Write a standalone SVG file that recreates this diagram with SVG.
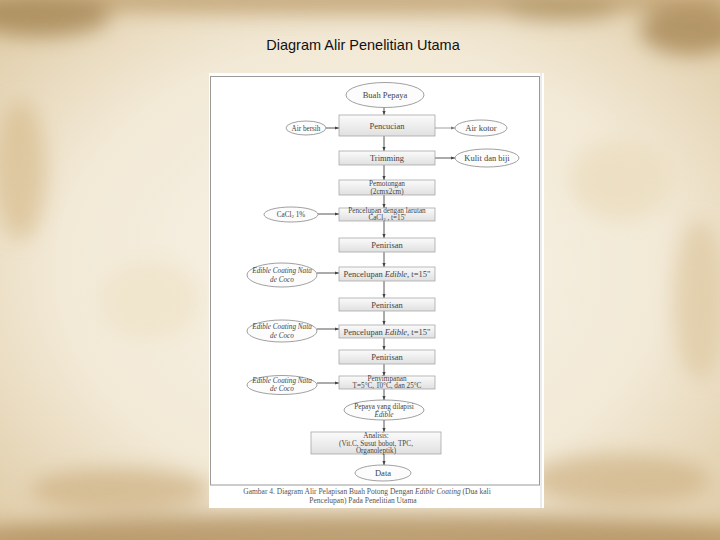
<svg xmlns="http://www.w3.org/2000/svg" width="720" height="540" viewBox="0 0 720 540">
<defs>
<radialGradient id="bg" cx="50%" cy="50%" r="70%">
<stop offset="0" stop-color="#f8f3e8"/>
<stop offset="0.6" stop-color="#f2e9d6"/>
<stop offset="1" stop-color="#dfcba6"/>
</radialGradient>
<linearGradient id="bx" x1="0" y1="0" x2="0" y2="1">
<stop offset="0" stop-color="#fbfbfb"/>
<stop offset="1" stop-color="#e0e0e0"/>
</linearGradient>
<filter id="blur" x="-50%" y="-50%" width="200%" height="200%"><feGaussianBlur stdDeviation="10"/></filter>
<marker id="ah" viewBox="0 0 10 10" refX="10" refY="5" markerWidth="5" markerHeight="5" orient="auto">
<path d="M0,1 L10,5 L0,9 z" fill="#444"/>
</marker>
<marker id="ahl" viewBox="0 0 10 10" refX="10" refY="5" markerWidth="5" markerHeight="5" orient="auto">
<path d="M0,1 L10,5 L0,9 z" fill="#777"/>
</marker>
</defs>
<style>
.box{fill:url(#bx);stroke:#a8a8a8;stroke-width:0.8}
.ell{fill:#fcfcfc;stroke:#888;stroke-width:0.8}
.t{font-family:"Liberation Serif",serif;font-size:8.5px;fill:#444;text-anchor:middle}
.s{font-size:7.2px}
.i{font-style:italic}
.c{stroke:#444;stroke-width:0.9;fill:none;marker-end:url(#ah)}
.cl{stroke:#888;stroke-width:0.8;fill:none;marker-end:url(#ahl)}
.cap{font-family:"Liberation Serif",serif;font-size:7.5px;fill:#555;text-anchor:middle}
</style>
<!-- background parchment -->
<rect width="720" height="540" fill="url(#bg)"/>
<g filter="url(#blur)" opacity="0.7">
<ellipse cx="360" cy="0" rx="420" ry="14" fill="#b89560"/>
<ellipse cx="360" cy="540" rx="420" ry="26" fill="#a9844f"/>
<ellipse cx="40" cy="15" rx="70" ry="22" fill="#9c7a45"/>
<ellipse cx="690" cy="30" rx="50" ry="25" fill="#a07e48"/>
<ellipse cx="20" cy="170" rx="26" ry="70" fill="#d8be90"/>
<ellipse cx="700" cy="300" rx="26" ry="80" fill="#dec8a0"/>
<ellipse cx="120" cy="490" rx="90" ry="22" fill="#cdb082"/>
<ellipse cx="620" cy="480" rx="90" ry="26" fill="#cfb386"/>
<ellipse cx="560" cy="8" rx="60" ry="12" fill="#a3834e"/>
<ellipse cx="150" cy="300" rx="50" ry="40" fill="#efe3c8"/>
<ellipse cx="620" cy="180" rx="50" ry="40" fill="#eadcbc"/>
</g>
<!-- title -->
<text x="363" y="50" font-family="'Liberation Sans',sans-serif" font-size="14.5px" fill="#111" text-anchor="middle">Diagram Alir Penelitian Utama</text>
<!-- figure sheet -->
<rect x="209" y="73" width="335" height="435" fill="#ffffff"/>
<rect x="210.5" y="76.5" width="329" height="408.5" fill="none" stroke="#9a9a9a" stroke-width="1"/>
<line x1="541" y1="73" x2="541" y2="508" stroke="#d8d8d8" stroke-width="1"/>
<!-- connectors -->
<g id="connectors">
<line class="c" x1="384" y1="107.5" x2="384" y2="115"/>
<line class="c" x1="384" y1="136" x2="384" y2="151"/>
<line class="c" x1="384" y1="165" x2="384" y2="180"/>
<line class="c" x1="384" y1="195" x2="384" y2="208"/>
<line class="c" x1="384" y1="221" x2="384" y2="238"/>
<line class="c" x1="384" y1="252" x2="384" y2="267"/>
<line class="c" x1="384" y1="281" x2="384" y2="298"/>
<line class="c" x1="384" y1="311" x2="384" y2="325"/>
<line class="c" x1="384" y1="338" x2="384" y2="350"/>
<line class="c" x1="384" y1="364" x2="384" y2="376"/>
<line class="c" x1="384" y1="389" x2="384" y2="400"/>
<line class="c" x1="384" y1="420" x2="384" y2="432"/>
<line class="c" x1="384" y1="454" x2="384" y2="465"/>
<line class="c" x1="326" y1="128" x2="339" y2="128"/>
<line class="cl" x1="435" y1="128" x2="455" y2="128"/>
<line class="c" x1="435" y1="158" x2="455" y2="158"/>
<line class="c" x1="318" y1="214" x2="339" y2="214"/>
<line class="c" x1="317" y1="273" x2="339" y2="273"/>
<line class="c" x1="317" y1="329" x2="339" y2="329"/>
<line class="c" x1="317" y1="383" x2="339" y2="383"/>
</g>
<!-- nodes -->
<g id="buah-pepaya"><ellipse class="ell" cx="385" cy="95" rx="39" ry="12.5"/><text class="t" x="385" y="98">Buah Pepaya</text></g>
<g id="pencucian"><rect class="box" x="339" y="115" width="96" height="21"/><text class="t" x="387" y="129">Pencucian</text></g>
<g id="air-bersih"><ellipse class="ell" cx="306" cy="128" rx="20" ry="7"/><text class="t s" x="306" y="130.5">Air bersih</text></g>
<g id="air-kotor"><ellipse class="ell" cx="481" cy="128" rx="26" ry="8"/><text class="t" x="481" y="131">Air kotor</text></g>
<g id="trimming"><rect class="box" x="339" y="151" width="96" height="14"/><text class="t" x="387" y="161">Trimming</text></g>
<g id="kulit-biji"><ellipse class="ell" cx="487" cy="158" rx="32" ry="9"/><text class="t" x="487" y="161">Kulit dan biji</text></g>
<g id="pemotongan"><rect class="box" x="339" y="180" width="96" height="15"/><text class="t s" x="387" y="185.5">Pemotongan</text><text class="t s" x="387" y="193.5">(2cmx2cm)</text></g>
<g id="pencelupan-cacl2"><rect class="box" x="339" y="208" width="96" height="13"/><text class="t s" x="387" y="212.5">Pencelupan dengan larutan</text><text class="t s" x="387" y="220">CaCl<tspan font-size="5px" dy="1.2">2</tspan><tspan dy="-1.2"> , t=15'</tspan></text></g>
<g id="cacl2"><ellipse class="ell" cx="291" cy="214.5" rx="27" ry="7.5"/><text class="t s" x="291" y="217">CaCl<tspan font-size="5px" dy="1.2">2</tspan><tspan dy="-1.2"> 1%</tspan></text></g>
<g id="penirisan-1"><rect class="box" x="339" y="238" width="96" height="14"/><text class="t" x="387" y="248">Penirisan</text></g>
<g id="edible-1"><ellipse class="ell" cx="282" cy="275" rx="35" ry="12"/><text class="t s i" x="282" y="273">Edible Coating Nata</text><text class="t s i" x="282" y="281.5">de Coco</text></g>
<g id="pencelupan-edible-1"><rect class="box" x="339" y="267" width="96" height="14"/><text class="t" x="387" y="277">Pencelupan <tspan font-style="italic">Edible</tspan>, t=15"</text></g>
<g id="penirisan-2"><rect class="box" x="339" y="298" width="96" height="13"/><text class="t" x="387" y="307.5">Penirisan</text></g>
<g id="edible-2"><ellipse class="ell" cx="282" cy="331" rx="35" ry="11"/><text class="t s i" x="282" y="329">Edible Coating Nata</text><text class="t s i" x="282" y="337.5">de Coco</text></g>
<g id="pencelupan-edible-2"><rect class="box" x="339" y="325" width="96" height="13"/><text class="t" x="387" y="334.5">Pencelupan <tspan font-style="italic">Edible</tspan>, t=15"</text></g>
<g id="penirisan-3"><rect class="box" x="339" y="350" width="96" height="14"/><text class="t" x="387" y="360">Penirisan</text></g>
<g id="edible-3"><ellipse class="ell" cx="282" cy="385" rx="35" ry="9.5"/><text class="t s i" x="282" y="383">Edible Coating Nata</text><text class="t s i" x="282" y="391">de Coco</text></g>
<g id="penyimpanan"><rect class="box" x="339" y="376" width="96" height="13"/><text class="t s" x="387" y="380.5">Penyimpanan</text><text class="t s" x="387" y="388">T=5°C, 10°C, dan 25°C</text></g>
<g id="pepaya-dilapisi"><ellipse class="ell" cx="384" cy="410" rx="40" ry="10"/><text class="t s" x="384" y="408.5">Pepaya yang dilapisi</text><text class="t s i" x="384" y="416.5">Edible</text></g>
<g id="analisis"><rect class="box" x="311" y="432" width="130" height="22"/><text class="t s" x="376" y="437.5">Analisis:</text><text class="t s" x="376" y="445.5">(Vit.C, Susut bobot, TPC,</text><text class="t s" x="376" y="453">Organoleptik)</text></g>
<g id="data"><ellipse class="ell" cx="383" cy="473" rx="28" ry="8"/><text class="t" x="383" y="476">Data</text></g>
<!-- caption -->
<text class="cap" x="367" y="494">Gambar 4. Diagram Alir Pelapisan Buah Potong Dengan <tspan font-style="italic">Edible Coating</tspan> (Dua kali</text>
<text class="cap" x="363" y="503">Pencelupan) Pada Penelitian Utama</text>
</svg>
